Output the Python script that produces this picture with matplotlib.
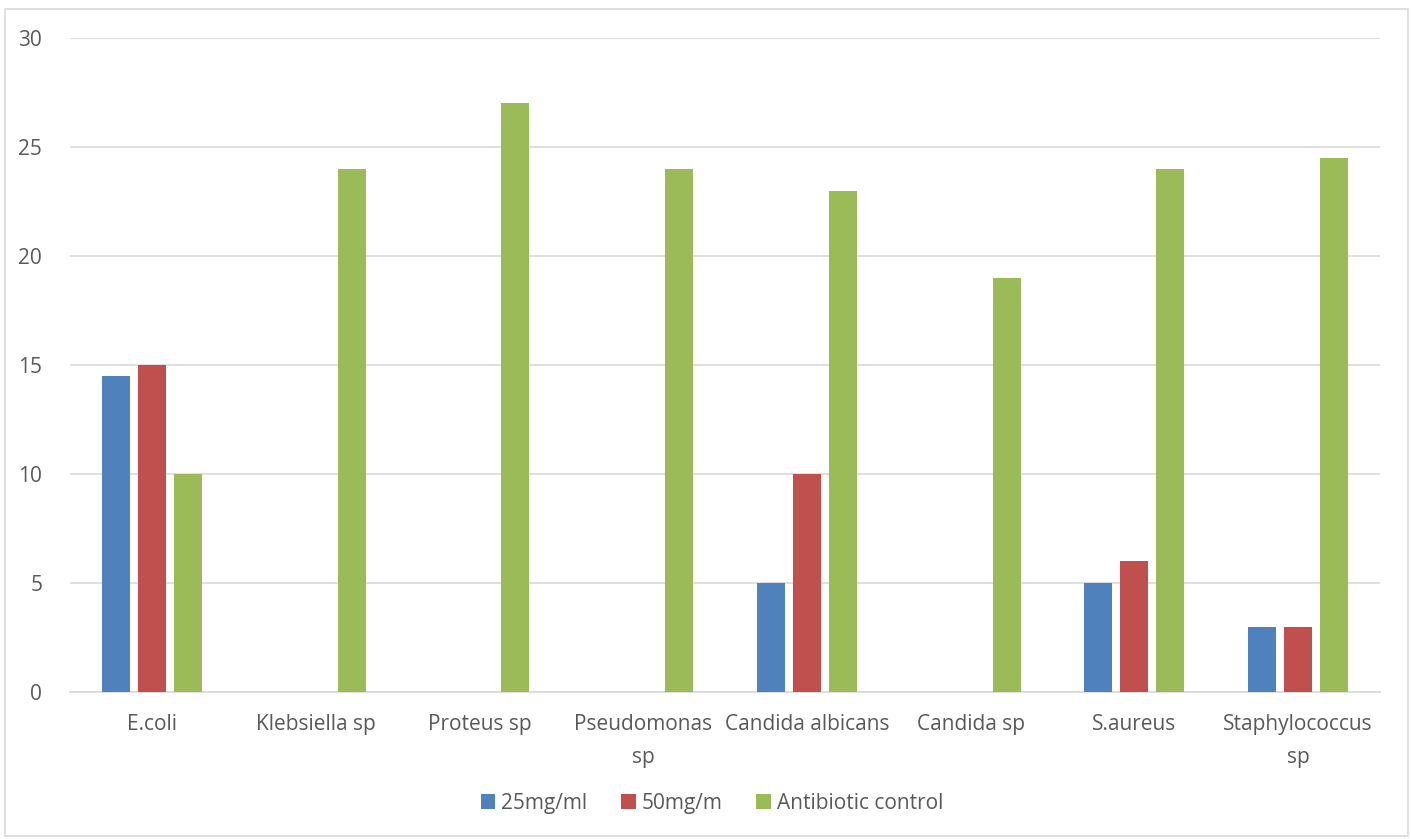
import matplotlib
matplotlib.use("Agg")
import matplotlib.pyplot as plt
import numpy as np
from matplotlib.patches import Rectangle

categories = ["E.coli", "Klebsiella sp", "Proteus sp", "Pseudomonas\nsp", "Candida albicans",
              "Candida sp", "S.aureus", "Staphylococcus\nsp"]
series_names = ["25mg/ml", "50mg/m", "Antibiotic control"]
s25 = [14.5, 0, 0, 0, 5, 0, 5, 3]
s50 = [15, 0, 0, 0, 10, 0, 6, 3]
ctrl = [10, 24, 27, 24, 23, 19, 24, 24.5]
yticks = [0, 5, 10, 15, 20, 25, 30]
colors = ["#4F81BD", "#C0504D", "#9BBB59"]

plt.rcParams['font.family'] = ['Open Sans', 'DejaVu Sans']
fig = plt.figure(figsize=(14.11, 8.39), dpi=100)
fig.patches.append(Rectangle((5/1411, 3/839), 1403/1411, 827/839, transform=fig.transFigure,
                             fill=False, edgecolor="#D9D9D9", linewidth=1.2))
ax = fig.add_axes([70/1411, 1 - 692/839, 1310/1411, (692 - 38)/839])

x = np.arange(len(categories))
w = 0.171
step = 0.22
for i, (vals, name) in enumerate(zip([s25, s50, ctrl], series_names)):
    ax.bar(x + (i - 1) * step, vals, width=w, color=colors[i], label=name, zorder=3)

ax.set_xlim(-0.5, len(categories) - 0.5)
ax.set_ylim(0, 30)
ax.set_yticks(yticks)
ax.set_xticks(x)
ax.set_xticklabels(categories, linespacing=1.75)
ax.grid(axis='y', color="#D9D9D9", linewidth=1.2, zorder=0)
for s in ["top", "right", "left"]:
    ax.spines[s].set_visible(False)
ax.spines["bottom"].set_color("#D9D9D9")
ax.spines["bottom"].set_linewidth(1.2)
ax.tick_params(axis='both', length=0, labelsize=15, labelcolor="#595959")
ax.tick_params(axis='y', pad=20)
ax.tick_params(axis='x', pad=16)
for lbl in ax.get_xticklabels():
    lbl.set_verticalalignment('top')

ax.legend(loc='center', bbox_to_anchor=(0.49, -0.17), ncol=3, frameon=False,
          fontsize=15, labelcolor="#595959", handlelength=0.7, handleheight=0.7,
          columnspacing=1.6, handletextpad=0.3)

fig.savefig("out.png", dpi=100)
